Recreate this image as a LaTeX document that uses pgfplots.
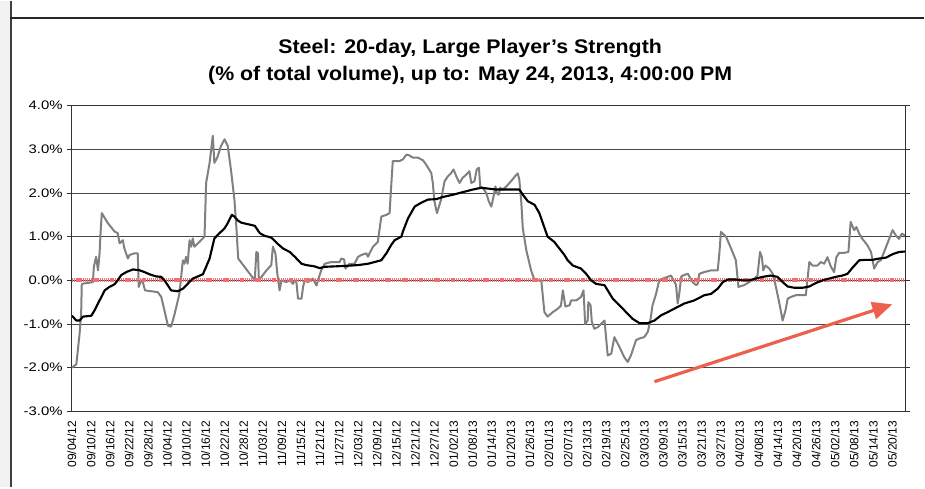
\documentclass[border=0pt]{standalone}
\usepackage{fontspec}
\setmainfont{Liberation Sans}
\usepackage{graphicx}
\usepackage{pgfplots}
\pgfplotsset{compat=1.18}
\usetikzlibrary{arrows.meta}
\definecolor{grayline}{RGB}{128,128,128}
\definecolor{arrowred}{RGB}{238,96,78}
\definecolor{zerored}{RGB}{240,110,110}
\newcommand\yl[1]{\scalebox{1.2}[1]{#1}}
\pgfplotstableread{
d v
0 -2.00
1.4 -1.92
2.4 -1.23
2.9 -0.77
3.1 -0.08
6.6 -0.04
6.9 0.31
7.6 0.54
8.2 0.23
8.7 0.62
9.0 1.08
9.4 1.54
11.3 1.31
13.4 1.12
14.4 1.08
15.0 0.85
16.0 0.92
16.5 0.73
17.6 0.50
18.1 0.58
19.7 0.62
20.7 0.62
21.0 -0.15
21.8 0.00
22.3 -0.04
23.0 -0.23
27.0 -0.27
28.1 -0.38
29.1 -0.69
30.2 -1.04
31.2 -1.06
32.3 -0.77
33.8 -0.31
34.9 0.46
35.4 0.38
35.9 0.54
36.4 0.38
37.0 0.92
37.5 0.77
38.0 0.96
38.5 0.77
40.1 0.88
41.7 1.00
42.2 2.23
43.3 2.69
43.8 3.00
44.3 3.31
44.8 2.69
45.7 2.81
46.9 3.08
48.0 3.23
49.0 3.08
50.0 2.54
51.1 1.85
51.7 1.23
52.3 0.50
57.5 0.00
58.0 0.65
58.5 0.62
58.8 0.00
59.6 0.08
61.2 0.23
62.7 0.35
63.2 0.77
64.0 0.62
64.6 0.15
65.3 -0.23
65.9 0.00
67.4 -0.04
68.5 0.00
69.5 -0.08
70.1 0.00
70.6 -0.04
71.1 -0.42
72.2 -0.42
72.7 -0.15
73.2 0.00
74.2 -0.04
75.8 0.04
76.9 -0.12
77.4 0.00
78.4 0.23
79.5 0.38
81.6 0.42
84.2 0.42
84.7 0.50
85.6 0.48
86.0 0.27
87.3 0.38
88.9 0.38
90.0 0.54
91.0 0.58
92.6 0.62
93.1 0.54
93.6 0.62
94.7 0.77
96.2 0.88
97.3 1.46
98.9 1.50
99.9 1.54
100.4 2.15
100.9 2.73
103.0 2.73
104.1 2.77
105.2 2.88
106.2 2.86
107.2 2.81
108.8 2.81
110.4 2.75
111.4 2.65
113.0 2.46
113.5 2.23
114.0 1.81
114.8 1.54
115.6 1.73
116.1 1.85
117.2 2.27
118.2 2.38
119.3 2.46
120.0 2.54
120.9 2.38
121.9 2.23
122.9 2.35
124.0 2.42
125.0 2.50
125.6 2.23
126.6 2.27
127.3 2.54
128.0 2.58
128.4 2.15
129.2 2.12
130.3 2.00
131.1 1.81
131.9 1.69
132.6 1.92
133.2 2.15
133.6 2.00
134.2 1.96
134.7 2.12
135.5 2.08
136.6 2.15
138.1 2.27
139.2 2.37
140.2 2.45
140.7 2.31
141.3 1.81
141.8 1.19
142.9 0.69
144.4 0.23
145.5 0.00
147.6 0.00
148.6 -0.73
149.6 -0.83
151.2 -0.73
152.8 -0.65
153.8 -0.58
154.4 -0.23
155.2 -0.60
156.5 -0.57
157.0 -0.46
158.6 -0.46
160.1 -0.38
160.9 -0.23
161.4 -1.00
162.2 -0.92
162.4 -0.50
163.1 -0.57
163.5 -0.95
164.3 -1.11
165.4 -1.07
166.4 -1.00
167.5 -0.92
168.5 -1.72
169.6 -1.68
170.6 -1.30
172.2 -1.53
173.7 -1.76
174.8 -1.87
175.8 -1.72
177.4 -1.37
178.5 -1.33
180.0 -1.30
181.1 -1.18
181.9 -0.92
182.6 -0.57
183.7 -0.31
184.7 0.00
185.8 0.04
187.3 0.08
188.4 0.11
189.3 0.00
190.0 -0.11
190.5 -0.53
191.0 -0.31
191.6 0.08
192.1 0.11
193.7 0.15
195.2 -0.04
196.3 -0.11
196.8 -0.08
197.3 0.15
198.9 0.19
201.0 0.23
203.1 0.23
203.6 0.61
204.1 1.11
205.7 1.00
207.3 0.73
208.8 0.46
209.6 -0.15
211.4 -0.11
213.0 -0.04
214.6 0.04
215.6 0.11
216.4 0.65
217.0 0.53
217.4 0.23
218.1 0.34
219.3 0.27
220.4 0.15
221.4 -0.15
222.5 -0.53
223.5 -0.92
224.4 -0.69
225.1 -0.42
226.1 -0.38
227.7 -0.34
230.8 -0.34
231.3 0.00
231.9 0.42
232.9 0.34
234.5 0.34
235.5 0.42
236.6 0.38
237.6 0.53
238.7 0.31
239.7 0.19
240.4 0.53
241.3 0.63
242.8 0.63
244.2 0.65
244.9 1.34
246.0 1.15
246.7 1.22
247.6 1.07
248.6 0.95
250.2 0.80
251.3 0.65
251.8 0.46
252.3 0.27
253.4 0.42
254.4 0.46
256.0 0.76
258.1 1.15
259.1 1.03
260.1 0.95
261.0 1.07
262.0 1.03
}\daily
\pgfplotstableread{
d v
0 -0.81
1.4 -0.92
2.4 -0.92
3.5 -0.83
6.1 -0.81
7.1 -0.69
8.7 -0.46
10.3 -0.23
11.8 -0.15
13.4 -0.09
14.4 0.00
15.5 0.12
17.1 0.19
19.2 0.25
21.3 0.23
22.8 0.19
24.4 0.14
26.5 0.09
28.1 0.08
29.1 0.00
30.2 -0.12
31.2 -0.23
33.3 -0.25
34.9 -0.19
36.4 -0.08
38.0 0.04
39.6 0.09
41.2 0.14
42.2 0.31
43.3 0.50
44.8 0.96
46.4 1.08
48.0 1.19
49.0 1.31
50.3 1.50
51.1 1.46
52.2 1.37
53.3 1.32
57.5 1.25
59.1 1.08
60.6 1.02
62.7 0.98
64.8 0.83
66.4 0.73
68.5 0.65
70.1 0.54
72.2 0.38
73.7 0.35
76.3 0.32
77.9 0.28
79.5 0.31
82.6 0.32
85.8 0.33
90.0 0.35
93.1 0.38
95.2 0.42
97.3 0.46
98.9 0.62
100.4 0.81
101.5 0.92
103.6 1.00
104.1 1.12
105.7 1.42
107.8 1.69
109.9 1.78
112.0 1.85
114.6 1.86
116.7 1.91
119.8 1.96
122.9 2.02
126.1 2.08
128.7 2.12
133.4 2.08
140.7 2.08
141.8 1.96
143.4 1.81
145.5 1.73
147.0 1.54
148.1 1.31
149.6 1.00
151.7 0.88
153.3 0.73
154.9 0.58
155.9 0.46
157.5 0.34
160.1 0.27
161.7 0.15
163.3 0.00
164.8 -0.08
167.5 -0.11
168.5 -0.23
170.1 -0.42
172.2 -0.57
174.3 -0.73
176.3 -0.88
178.5 -0.98
181.1 -0.98
183.2 -0.92
185.3 -0.80
187.3 -0.73
189.4 -0.65
192.6 -0.53
195.7 -0.46
198.9 -0.34
201.0 -0.31
203.1 -0.19
204.7 -0.04
206.3 0.02
208.8 0.02
210.9 0.00
213.0 0.00
215.1 0.04
217.2 0.08
219.8 0.11
221.9 0.08
223.5 -0.04
225.1 -0.14
227.2 -0.17
229.8 -0.17
231.9 -0.14
234.0 -0.06
236.1 0.00
238.1 0.04
240.2 0.08
242.3 0.11
243.9 0.15
245.5 0.29
247.6 0.46
249.7 0.47
251.8 0.47
253.9 0.50
256.0 0.52
258.1 0.60
260.1 0.65
262.0 0.66
}\avg
\begin{document}
\begin{tikzpicture}
\begin{axis}[
  scale only axis, width=625.5pt, height=229.5pt,
  xmin=0, xmax=262, ymin=-3, ymax=4,
  xtick={0,6,...,258},
  xticklabels={09/04/12,09/10/12,09/16/12,09/22/12,09/28/12,10/04/12,10/10/12,10/16/12,10/22/12,10/28/12,11/03/12,11/09/12,11/15/12,11/21/12,11/27/12,12/03/12,12/09/12,12/15/12,12/21/12,12/27/12,01/02/13,01/08/13,01/14/13,01/20/13,01/26/13,02/01/13,02/07/13,02/13/13,02/19/13,02/25/13,03/03/13,03/09/13,03/15/13,03/21/13,03/27/13,04/02/13,04/08/13,04/14/13,04/20/13,04/26/13,05/02/13,05/08/13,05/14/13,05/20/13},
  ytick={-3,-2,-1,0,1,2,3,4},
  yticklabels={\yl{-3.0\%},\yl{-2.0\%},\yl{-1.0\%},\yl{0.0\%},\yl{1.0\%},\yl{2.0\%},\yl{3.0\%},\yl{4.0\%}},
  ymajorgrids,
  grid style={black!72, line width=0.75pt},
  axis line style={black!80, line width=0.75pt},
  tick align=outside, major tick length=3.5pt,
  xtick style={draw=none},
  ytick style={black!80, line width=0.75pt},
  x tick label style={rotate=90, anchor=east, font=\fontsize{9}{10}\selectfont},
  y tick label style={font=\fontsize{9.3}{10}\selectfont},
]
\coordinate (ll) at (rel axis cs:0,0);
\addplot[grayline, line width=1.5pt, line join=round] table[x=d,y=v] {\daily};
\addplot[zerored, line width=2.8pt, dash pattern=on 1pt off 0.6pt] coordinates {(0,0) (262,0)};
\addplot[black, line width=1.6pt, line join=round] table[x=d,y=v] {\avg};
\draw[arrowred, line width=2.4pt, -{Triangle[length=15pt,width=13pt]}] (axis cs:183.2,-2.32) -- (axis cs:258.0,-0.55);
\end{axis}
% frame of the screenshot
\fill[black!5] ([xshift=-54pt,yshift=-57pt]ll) rectangle ([xshift=-46.5pt,yshift=308.25pt]ll);
\draw[black!75, line width=1.2pt] ([xshift=-45.75pt,yshift=-57pt]ll) -- ([xshift=-45.75pt,yshift=308.25pt]ll);
\draw[black!85, line width=1.5pt] ([xshift=-46.5pt,yshift=295.5pt]ll) -- ([xshift=639.75pt,yshift=295.5pt]ll);
\node[align=center, inner sep=0pt] at ([xshift=299pt,yshift=262.5pt]ll)
  {\scalebox{1.17}[1.08]{\fontsize{13.7}{19}\selectfont\bfseries
   \begin{tabular}{@{}c@{}}Steel: 20-day, Large Player's Strength\\(\% of total volume), up to: May 24, 2013, 4:00:00 PM\end{tabular}}};
\path[use as bounding box] ([xshift=-54pt,yshift=-57pt]ll) rectangle ([xshift=639.75pt,yshift=308.25pt]ll);
\end{tikzpicture}
\end{document}
